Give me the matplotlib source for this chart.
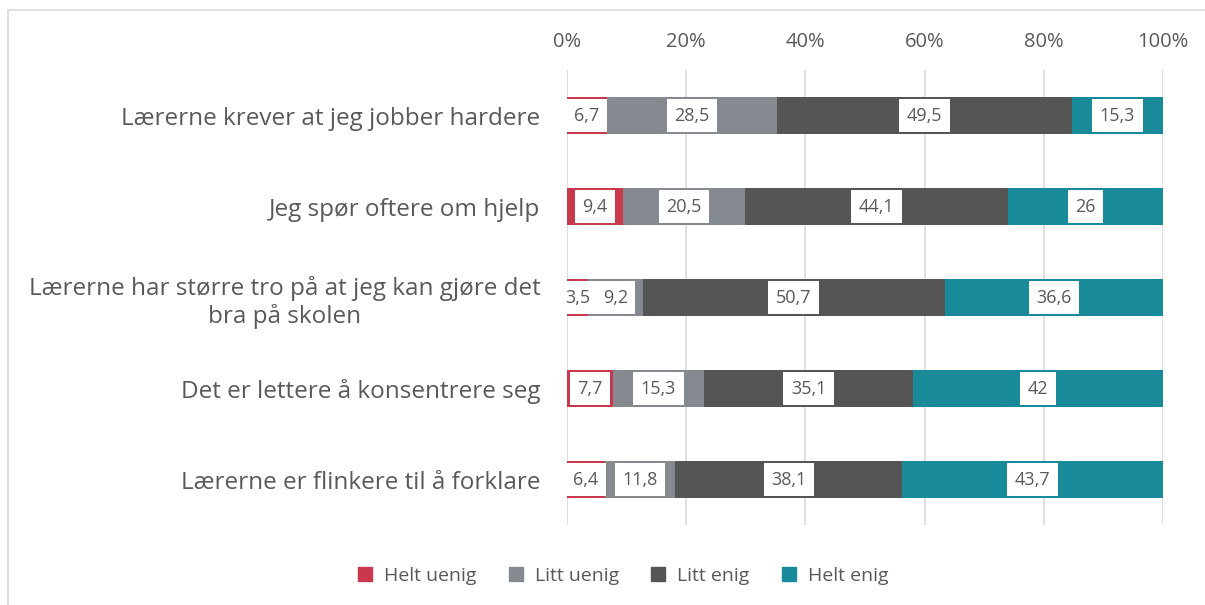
import matplotlib
matplotlib.use("Agg")
import matplotlib.pyplot as plt
import numpy as np
from matplotlib.patches import Rectangle
from matplotlib.lines import Line2D

plt.rcParams['font.family'] = ['Open Sans', 'DejaVu Sans']

categories = [
    'Lærerne krever at jeg jobber hardere',
    'Jeg spør oftere om hjelp',
    'Lærerne har større tro på at jeg kan gjøre det\nbra på skolen',
    'Det er lettere å konsentrere seg',
    'Lærerne er flinkere til å forklare',
]
series = ['Helt uenig', 'Litt uenig', 'Litt enig', 'Helt enig']
helt_uenig = [6.7, 9.4, 3.5, 7.7, 6.4]
litt_uenig = [28.5, 20.5, 9.2, 15.3, 11.8]
litt_enig = [49.5, 44.1, 50.7, 35.1, 38.1]
helt_enig = [15.3, 26, 36.6, 42, 43.7]
values = [helt_uenig, litt_uenig, litt_enig, helt_enig]
colors = ['#C8394D', '#858A91', '#555555', '#198A9A']
text_color = '#595959'

fig = plt.figure(figsize=(12.05, 6.05), dpi=100)
ax = fig.add_axes([0.4705, 0.1322, 0.4946, 0.7521])

# outer chart border (light grey, partly cropped)
fig.patches.append(Rectangle((8 / 1205, -0.1), 1.2, 1 - 10 / 605 + 0.1,
                             transform=fig.transFigure, fill=False,
                             edgecolor='#D9D9D9', linewidth=1.2, zorder=0))

y = np.arange(len(categories))
left = np.zeros(len(categories))
for name, vals, col in zip(series, values, colors):
    vals = np.array(vals, dtype=float)
    bars = ax.barh(y, vals, left=left, height=0.4, color=col, label=name, zorder=2)
    for bar, v in zip(bars, vals):
        lbl = f'{v:g}'.replace('.', ',')
        ax.text(bar.get_x() + bar.get_width() / 2, bar.get_y() + bar.get_height() / 2,
                lbl, ha='center', va='center', fontsize=13, color=text_color, zorder=4,
                bbox=dict(boxstyle='square,pad=0.42', facecolor='white', edgecolor='none'))
    left += vals

ax.set_xlim(0, 100)
ax.set_ylim(4.5, -0.5)
ax.set_yticks(y)
ax.set_yticklabels(categories, fontsize=17.5, color=text_color, multialignment='center')
ax.set_xticks(np.arange(0, 101, 20))
ax.set_xticklabels([f'{t}%' for t in range(0, 101, 20)], fontsize=14.5, color=text_color)
ax.xaxis.tick_top()
ax.tick_params(axis='x', length=0, pad=13)
ax.tick_params(axis='y', length=0, pad=19)
ax.grid(axis='x', color='#D9D9D9', linewidth=1.2, zorder=0)
for s in ax.spines.values():
    s.set_visible(False)

handles = [Line2D([], [], marker='s', linestyle='none', markersize=10,
                  markerfacecolor=c, markeredgecolor=c) for c in colors]
fig.legend(handles, series, loc='center', bbox_to_anchor=(0.512, 0.048), ncol=4,
           frameon=False, fontsize=14, labelcolor=text_color, handletextpad=0.0,
           columnspacing=1.0)

fig.savefig('out.png', dpi=100)
